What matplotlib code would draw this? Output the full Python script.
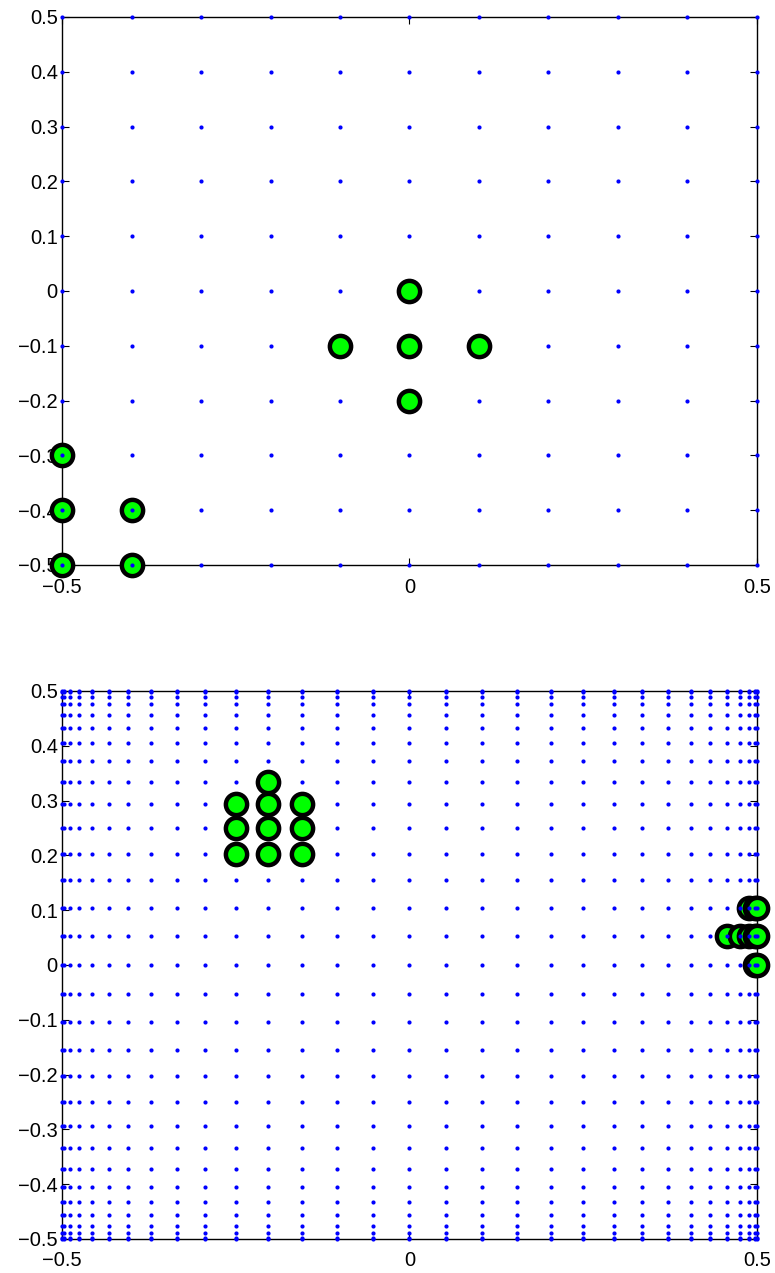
import matplotlib
matplotlib.use("Agg")
import matplotlib.pyplot as plt
import numpy as np
from matplotlib.ticker import FuncFormatter

plt.rcParams['font.family'] = ['Liberation Sans', 'DejaVu Sans']

# Uniform sampling grid (top panel)
grid_top = [-0.5, -0.4, -0.3, -0.2, -0.1, 0.0, 0.1, 0.2, 0.3, 0.4, 0.5]

# Clustered sampling grid (bottom panel), denser toward the borders
grid_bottom = [-0.5, -0.4973, -0.4891, -0.4755, -0.4568, -0.4330, -0.4045,
               -0.3716, -0.3346, -0.2939, -0.25, -0.2034, -0.1545, -0.1040,
               -0.0523, 0.0, 0.0523, 0.1040, 0.1545, 0.2034, 0.25, 0.2939,
               0.3346, 0.3716, 0.4045, 0.4330, 0.4568, 0.4755, 0.4891,
               0.4973, 0.5]

# Selected nodes, top panel
top_sel_x = [0.0, -0.1, 0.0, 0.1, 0.0]
top_sel_y = [0.0, -0.1, -0.1, -0.1, -0.2]
top_edge_x = [-0.5, -0.5, -0.4, -0.5, -0.4]
top_edge_y = [-0.3, -0.4, -0.4, -0.5, -0.5]

# Selected nodes, bottom panel
bot_sel_x = [-0.25, -0.25, -0.25, -0.2034, -0.2034, -0.2034, -0.2034,
             -0.1545, -0.1545, -0.1545]
bot_sel_y = [0.2034, 0.25, 0.2939, 0.2034, 0.25, 0.2939, 0.3346,
             0.2034, 0.25, 0.2939]
bot_edge_x = [0.4891, 0.4973, 0.5, 0.4568, 0.4755, 0.4891, 0.4973, 0.5,
              0.4973, 0.5]
bot_edge_y = [0.1040, 0.1040, 0.1040, 0.0523, 0.0523, 0.0523, 0.0523,
              0.0523, 0.0, 0.0]

yticks = [-0.5, -0.4, -0.3, -0.2, -0.1, 0.0, 0.1, 0.2, 0.3, 0.4, 0.5]
xticks = [-0.5, 0.0, 0.5]

W, H = 775, 1273
fig = plt.figure(figsize=(W / 100, H / 100), dpi=100)


def fmt(v, pos):
    if abs(v) < 1e-9:
        return "0"
    s = "%g" % v
    return s.replace("-", "\u2212")


def panel(rect, grid, sel_x, sel_y, edge_x, edge_y):
    ax = fig.add_axes(rect)
    gx, gy = np.meshgrid(grid, grid)
    circ = dict(marker='o', linestyle='none', markersize=15.3,
                markerfacecolor=(0, 1, 0), markeredgecolor='black',
                markeredgewidth=3.2, clip_on=False)
    ax.plot(edge_x, edge_y, zorder=2.6, **circ)
    ax.plot(gx.ravel(), gy.ravel(), 'o', color=(0, 0, 1), markersize=3.0,
            markeredgewidth=0, clip_on=False, zorder=3)
    ax.plot(sel_x, sel_y, zorder=4, **circ)
    ax.set_xlim(-0.5, 0.5)
    ax.set_ylim(-0.5, 0.5)
    ax.set_xticks(xticks)
    ax.set_yticks(yticks)
    ax.xaxis.set_major_formatter(FuncFormatter(fmt))
    ax.yaxis.set_major_formatter(FuncFormatter(fmt))
    ax.tick_params(direction='in', length=4.8, width=0.8, labelsize=14.5,
                   top=True, right=True)
    ax.tick_params(axis='x', pad=9)
    ax.tick_params(axis='y', pad=3)
    for sp in ax.spines.values():
        sp.set_linewidth(1.0)
    return ax


def rect_px(l, t, r, b):
    return [l / W, 1 - b / H, (r - l) / W, (b - t) / H]


panel(rect_px(62, 17, 757, 565), grid_top, top_sel_x, top_sel_y,
      top_edge_x, top_edge_y)
panel(rect_px(62, 691, 757, 1239), grid_bottom, bot_sel_x, bot_sel_y,
      bot_edge_x, bot_edge_y)

fig.savefig("out.png", dpi=100)
